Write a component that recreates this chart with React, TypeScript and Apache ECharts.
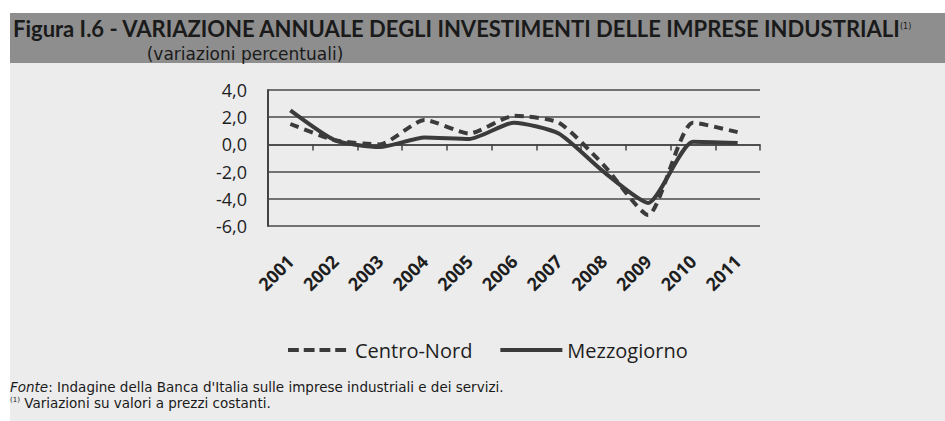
import React, { useEffect, useRef } from "react";
import * as echarts from "echarts";

const years = ["2001", "2002", "2003", "2004", "2005", "2006", "2007", "2008", "2009", "2010", "2011"];
const centroNord = [1.5, 0.3, 0.0, 1.8, 0.8, 2.1, 1.6, -1.5, -5.2, 1.6, 0.9];
const mezzogiorno = [2.5, 0.3, -0.2, 0.5, 0.4, 1.6, 0.8, -2.0, -4.3, 0.2, 0.1];
const seriesNames = ["Centro-Nord", "Mezzogiorno"];
const titleText = "Figura I.6 - VARIAZIONE ANNUALE DEGLI INVESTIMENTI DELLE IMPRESE INDUSTRIALI";
const subtitleText = "(variazioni percentuali)";
const sourceText = "Indagine della Banca d'Italia sulle imprese industriali e dei servizi.";
const noteText = "Variazioni su valori a prezzi costanti.";

const LINE = "#3b3b3b";
const TXT = "#1e1e1e";
const DASH_ICON = "path://M0,0h11v4h-11z M16,0h11v4h-11z M32,0h11v4h-11z M48,0h11v4h-11z M63,0h0v4h0z";
const SOLID_ICON = "path://M0,0h60v4h-60z";

export default function App() {
  const ref = useRef<HTMLDivElement>(null);
  useEffect(() => {
    const chart = echarts.init(ref.current!, null, { renderer: "svg" });
    chart.setOption({
      animation: false,
      backgroundColor: "#ffffff",
      grid: { left: 268, right: 185, top: 90, bottom: 195, containLabel: false },
      legend: {
        left: 283,
        top: 335,
        itemWidth: 62,
        itemHeight: 4,
        itemGap: 28,
        symbolKeepAspect: false,
        textStyle: { fontSize: 20, color: TXT, fontFamily: "Open Sans" },
        data: [
          { name: seriesNames[0], icon: DASH_ICON },
          { name: seriesNames[1], icon: SOLID_ICON },
        ],
      },
      xAxis: [
        {
          type: "category",
          data: years,
          position: "bottom",
          axisLine: { show: false, onZero: false },
          axisTick: { show: false },
          axisLabel: {
            rotate: 45,
            margin: 32,
            fontSize: 18,
            fontWeight: "bold",
            color: TXT,
            fontFamily: "Open Sans",
          },
        },
        {
          type: "category",
          data: years,
          position: "bottom",
          axisLine: { show: true, onZero: true, lineStyle: { color: "#444", width: 1.5 } },
          axisTick: { show: true, length: 6, lineStyle: { color: "#444", width: 1.5 } },
          axisLabel: { show: false },
        },
      ],
      yAxis: {
        type: "value",
        min: -6,
        max: 4,
        interval: 2,
        axisLine: { show: true, lineStyle: { color: "#444", width: 2 } },
        axisTick: { show: false },
        splitLine: { lineStyle: { color: "#4a4a4a", width: 1.5 } },
        axisLabel: {
          margin: 21,
          fontSize: 18,
          color: TXT,
          fontFamily: "Open Sans",
          formatter: (v: number) => v.toFixed(1).replace(".", ","),
        },
      },
      series: [
        {
          name: seriesNames[0],
          type: "line",
          data: centroNord,
          symbol: "none",
          smooth: 0.2,
          lineStyle: { color: LINE, width: 4, type: [9, 6] },
          itemStyle: { color: LINE },
        },
        {
          name: seriesNames[1],
          type: "line",
          data: mezzogiorno,
          symbol: "none",
          smooth: 0.2,
          lineStyle: { color: LINE, width: 4 },
          itemStyle: { color: LINE },
        },
      ],
      graphic: [
        { type: "rect", z: -10, shape: { x: 10, y: 63, width: 935, height: 358 }, style: { fill: "#ececec" } },
        { type: "rect", z: -10, shape: { x: 10, y: 13, width: 935, height: 50 }, style: { fill: "#8e8e8e" } },
        {
          type: "text",
          x: 13,
          y: 28,
          style: {
            text: titleText,
            fontSize: 22,
            fontWeight: "bold",
            fontFamily: "Lato",
            fill: "#1a1a1a",
            verticalAlign: "middle",
          },
        },
        {
          type: "text",
          x: 900,
          y: 26,
          style: { text: "(1)", fontSize: 8, fontFamily: "DejaVu Sans", fill: "#1a1a1a", verticalAlign: "middle" },
        },
        {
          type: "text",
          x: 245,
          y: 54,
          style: {
            text: subtitleText,
            fontSize: 17,
            fontFamily: "DejaVu Sans",
            fill: "#1a1a1a",
            align: "center",
            verticalAlign: "middle",
          },
        },
        {
          type: "text",
          x: 10,
          y: 387,
          style: {
            text: "{i|Fonte}: " + sourceText,
            fontSize: 13.5,
            fontFamily: "DejaVu Sans",
            fill: "#1a1a1a",
            verticalAlign: "middle",
            rich: { i: { fontStyle: "italic", fontSize: 13.5, fontFamily: "DejaVu Sans", fill: "#1a1a1a" } },
          },
        },
        {
          type: "text",
          x: 10,
          y: 403,
          style: {
            text: "{s|(1)} " + noteText,
            fontSize: 13.5,
            fontFamily: "DejaVu Sans",
            fill: "#1a1a1a",
            verticalAlign: "middle",
            rich: { s: { fontSize: 7, fontFamily: "DejaVu Sans", fill: "#1a1a1a", verticalAlign: "top", padding: [0, 0, 5, 0] } },
          },
        },
      ],
    });
    return () => chart.dispose();
  }, []);
  return <div ref={ref} style={{ position: "fixed", left: 0, top: 0, width: 945, height: 421 }} />;
}
